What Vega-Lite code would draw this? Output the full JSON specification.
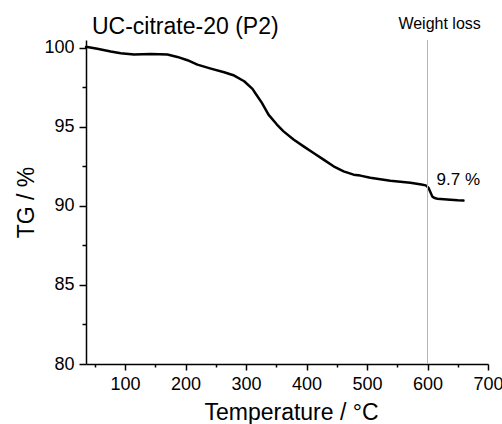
{
  "$schema": "https://vega.github.io/schema/vega-lite/v6.json",
  "autosize": {"type": "none"},
  "width": 402,
  "height": 324,
  "padding": {"left": 86, "top": 40, "right": 14, "bottom": 60},
  "background": "white",
  "config": {
    "view": {"stroke": null},
    "axis": {
      "grid": false,
      "domainColor": "black",
      "domainWidth": 1.5,
      "tickColor": "black",
      "tickWidth": 1.5,
      "labelFont": "Liberation Sans",
      "labelFontSize": 18,
      "labelColor": "black",
      "titleFont": "Liberation Sans",
      "titleFontSize": 23,
      "titleFontWeight": "normal",
      "titleColor": "black"
    }
  },
  "resolve": {"axis": {"x": "independent", "y": "independent"}},
  "layer": [
    {
      "data": {
        "values": [
          {"T": 35.4, "TG": 100.05},
          {"T": 37.6, "TG": 100.06},
          {"T": 54.1, "TG": 99.94},
          {"T": 76.3, "TG": 99.77},
          {"T": 92.8, "TG": 99.66},
          {"T": 114.8, "TG": 99.59},
          {"T": 142.5, "TG": 99.62},
          {"T": 170.0, "TG": 99.58},
          {"T": 186.5, "TG": 99.43},
          {"T": 203.1, "TG": 99.22},
          {"T": 219.6, "TG": 98.94},
          {"T": 241.8, "TG": 98.69},
          {"T": 263.8, "TG": 98.46},
          {"T": 280.4, "TG": 98.25},
          {"T": 296.9, "TG": 97.89},
          {"T": 310.6, "TG": 97.41},
          {"T": 315.1, "TG": 97.15},
          {"T": 326.2, "TG": 96.52},
          {"T": 337.1, "TG": 95.78},
          {"T": 351.0, "TG": 95.15},
          {"T": 362.0, "TG": 94.72},
          {"T": 378.5, "TG": 94.2},
          {"T": 395.1, "TG": 93.77},
          {"T": 411.6, "TG": 93.35},
          {"T": 428.2, "TG": 92.93},
          {"T": 444.7, "TG": 92.51},
          {"T": 461.3, "TG": 92.19},
          {"T": 477.8, "TG": 91.98},
          {"T": 488.9, "TG": 91.92},
          {"T": 505.4, "TG": 91.79},
          {"T": 538.5, "TG": 91.6},
          {"T": 571.6, "TG": 91.47},
          {"T": 590.0, "TG": 91.36},
          {"T": 597.0, "TG": 91.3},
          {"T": 601.4, "TG": 91.16},
          {"T": 604.5, "TG": 90.9},
          {"T": 608.0, "TG": 90.59},
          {"T": 612.0, "TG": 90.5},
          {"T": 616.3, "TG": 90.46},
          {"T": 637.8, "TG": 90.4},
          {"T": 650.0, "TG": 90.36},
          {"T": 659.4, "TG": 90.34}
        ]
      },
      "mark": {"type": "line", "color": "black", "strokeWidth": 2.5, "strokeJoin": "round", "strokeCap": "round"},
      "encoding": {
        "x": {
          "field": "T",
          "type": "quantitative",
          "scale": {"domain": [35.4, 700], "nice": false, "zero": false},
          "axis": {
            "orient": "bottom",
            "title": "Temperature / °C",
            "values": [100, 200, 300, 400, 500, 600, 700],
            "tickSize": 6,
            "labelPadding": 5,
            "labelFlush": false,
            "labelOverlap": false,
            "titleX": 205,
            "titleY": 55,
            "titleBaseline": "alphabetic",
            "titleAlign": "center"
          }
        },
        "y": {
          "field": "TG",
          "type": "quantitative",
          "scale": {"domain": [80, 100.5], "nice": false, "zero": false},
          "axis": {
            "orient": "left",
            "title": "TG / %",
            "values": [80, 85, 90, 95, 100],
            "tickSize": 7,
            "labelPadding": 5,
            "labelFlush": false,
            "labelOverlap": false,
            "titleX": -53,
            "titleY": 162,
            "titleAngle": -90,
            "titleBaseline": "alphabetic",
            "titleAlign": "center"
          }
        }
      }
    },
    {
      "data": {"values": [{"T": 600}]},
      "mark": {"type": "rule", "color": "#b5b5b5", "strokeWidth": 1},
      "encoding": {
        "x": {
          "field": "T",
          "type": "quantitative",
          "axis": {
            "orient": "bottom",
            "values": [50, 150, 250, 350, 450, 550, 650],
            "labels": false,
            "domain": false,
            "title": null,
            "tickSize": 3,
            "offset": 0
          }
        }
      }
    },
    {
      "data": {"values": [{"label": "UC-citrate-20 (P2)"}]},
      "mark": {"type": "text", "font": "Liberation Sans", "fontSize": 23, "color": "black", "align": "left", "baseline": "alphabetic"},
      "encoding": {
        "text": {"field": "label"},
        "x": {"datum": 45.3, "type": "quantitative", "axis": null},
        "y": {
          "datum": 100.88,
          "type": "quantitative",
          "axis": {
            "orient": "left",
            "values": [82.5, 87.5, 92.5, 97.5],
            "labels": false,
            "domain": false,
            "title": null,
            "tickSize": 4,
            "offset": 0
          }
        }
      }
    },
    {
      "data": {"values": [{"label": "Weight loss"}]},
      "mark": {"type": "text", "font": "Liberation Sans", "fontSize": 16, "color": "black", "align": "center", "baseline": "alphabetic"},
      "encoding": {
        "text": {"field": "label"},
        "x": {"datum": 620, "type": "quantitative", "axis": null},
        "y": {"datum": 101.2, "type": "quantitative", "axis": null}
      }
    },
    {
      "data": {"values": [{"label": "9.7 %"}]},
      "mark": {"type": "text", "font": "Liberation Sans", "fontSize": 17, "color": "black", "align": "left", "baseline": "alphabetic"},
      "encoding": {
        "text": {"field": "label"},
        "x": {"datum": 615, "type": "quantitative", "axis": null},
        "y": {"datum": 91.32, "type": "quantitative", "axis": null}
      }
    }
  ]
}
